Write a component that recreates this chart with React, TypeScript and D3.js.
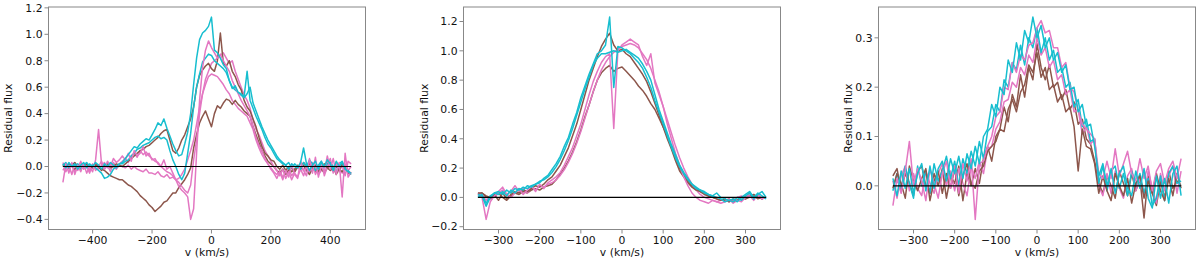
import * as d3 from 'd3';

const BROWN = '#8c564b';
const PINK = '#e377c2';
const CYAN = '#17becf';

// velocity grids, km/s
const vel1 = d3.range(-500, 471, 10);
const vel23 = d3.range(-350, 351, 10);

// ---- panel 1, residual flux x 100
const p1CyanA = [
  2, -1, 3, 0, 2, -2, 1, 3, -1, 2,
  0, 3, 1, -2, 2, 0, 3, 1, -1, 2,
  3, 6, 9, 12, 15, 14, 17, 19, 21, 20,
  24, 28, 33, 31, 36, 29, 23, 17, 12, 8,
  9, 17, 26, 40, 62, 82, 96, 101, 103, 106,
  113, 88, 86, 82, 77, 74, 65, 59, 61, 56,
  55, 53, 72, 50, 44, 38, 33, 28, 22, 17,
  14, 10, 6, 4, 2, 1, -2, 2, 0, -1,
  3, 14, 2, -3, 1, 4, -2, 3, 0, 5,
  2, -3, 4, 0, 3, -2, -4, -5,
];
const p1CyanB = [
  1, 3, -1, 2, 0, 2, -2, 1, 3, 0,
  1, -1, -3, -5, -9, -8, -6, -2, 0, 2,
  2, 4, 5, 8, 10, 13, 14, 16, 17, 18,
  20, 22, 23, 21, 22, 20, 12, 5, 0, -6,
  -10, -5, 10, 25, 45, 60, 70, 79, 82, 85,
  84, 80, 78, 76, 74, 71, 65, 60, 58, 56,
  54, 52, 55, 60, 48, 42, 36, 30, 25, 20,
  16, 12, 8, 5, 3, 1, 3, -1, 2, 0,
  -2, 3, 0, 5, 2, -3, 1, 4, -1, 2,
  3, 0, -4, 2, 4, -1, -3, -6,
];
const p1BrownA = [
  0, 2, -1, 1, 3, 0, -2, 1, 2, 0,
  -1, 2, 0, -3, 1, 2, -1, 0, 2, 1,
  0, 2, 4, 6, 8, 10, 12, 13, 15, 16,
  18, 20, 22, 25, 27, 28, 20, 12, 10, 14,
  20, 24, 30, 36, 45, 60, 69, 73, 76, 78,
  74, 72, 80, 101, 78, 76, 80, 72, 68, 62,
  58, 50, 45, 42, 36, 30, 22, 15, 10, 8,
  5, 4, 0, -2, 1, -3, 0, -4, -2, 1,
  -1, 3, 0, 2, -2, 1, -4, 0, 2, -1,
  1, -2, 0, -3, 2, -1, -4, -5,
];
const p1BrownB = [
  1, -1, 2, 0, -2, 1, 0, -1, 2, 0,
  -1, 1, 0, -2, -3, -5, -7, -8, -9, -10,
  -10, -12, -14, -15, -17, -19, -22, -24, -26, -29,
  -31, -34, -32, -30, -27, -26, -23, -20, -20, -16,
  -13, -10, -6, -1, 14, 24, 33, 38, 42, 36,
  30, 40, 46, 44, 48, 51, 50, 47, 50, 47,
  45, 42, 40, 38, 30, 24, 18, 12, 8, 4,
  2, 0, -3, -5, -2, -6, -3, -1, -4, 0,
  -2, 1, -3, -6, -1, -4, 0, -2, -5, -1,
  -3, 0, -6, -2, -4, -1, -5, -6,
];
const p1PinkA = [
  -12, 2, -5, 3, -6, 1, -4, 2, -5, 0,
  -4, 5, 28, 2, -2, 4, 0, 6, 3, 5,
  8, 5, 10, 4, 12, 8, 10, 15, 8, 10,
  5, 6, 2, 0, 5, -2, 0, -5, -10, -15,
  -18, -20, -23, -40, -32, 10, 50, 75, 88, 95,
  90, 86, 82, 85, 80, 76, 72, 65, 60, 55,
  50, 46, 42, 38, 30, 22, 16, 12, 6, 2,
  -2, -5, -9, -4, -10, -3, -8, 2, -6, -9,
  4, -3, -7, 6, -5, 7, -8, 1, -4, 8,
  -2, 6, -6, 3, -23, 10, -8, -4,
];
const p1PinkB = [
  3, -4, 1, -6, 2, -3, 4, -2, 0, -5,
  2, -3, 0, 4, -2, 1, -4, 3, 0, 2,
  4, 6, 3, 8, 10, 7, 12, 9, 11, 8,
  6, 4, 3, 0, -2, -4, -5, -7, -10, -12,
  -15, -18, -20, -14, 5, 20, 40, 55, 66, 72,
  78, 80, 82, 84, 86, 82, 78, 80, 72, 66,
  60, 54, 50, 44, 35, 28, 24, 18, 12, 8,
  4, 0, -3, -7, -2, -9, -4, -10, -5, -8,
  -2, -7, 0, -4, 3, -6, -1, 4, -7, 0,
  6, -5, 2, -4, 1, -7, 4, 2,
];
const p1PinkC = [
  -3, 1, -2, 2, -4, 0, 3, -1, 1, -3,
  0, 2, -2, 1, 3, -1, 2, 0, -2, 1,
  0, -1, 1, -2, 0, -2, -3, -4, -2, -5,
  -5, -6, -4, -7, -8, -6, -9, -8, -10, -9,
  -6, -2, 5, 12, 20, 32, 45, 55, 62, 68,
  70, 69, 68, 65, 62, 58, 55, 50, 47, 44,
  42, 40, 38, 33, 28, 20, 14, 9, 5, 2,
  -1, -4, -6, -3, -8, -5, -2, -7, -4, -1,
  0, -3, 2, -5, -2, 1, -6, -3, 0, 4,
  -1, -4, 3, -2, -5, 2, -3, 0,
];

// ---- panel 2, residual flux x 100
const p2CyanA = [
  2, 1, -6, 0, 3, 2, 4, 1, 5, 3,
  6, 5, 8, 7, 9, 10, 13, 15, 19, 23,
  28, 35, 41, 50, 58, 68, 76, 84, 91, 98,
  100, 104, 123, 75, 103, 102, 100, 98, 95, 92,
  88, 82, 75, 66, 58, 50, 42, 34, 27, 21,
  16, 12, 9, 6, 5, 3, 2, 1, 3, 0,
  -1, -2, -3, 0, -2, 1, 3, -1, 2, 4,
  0,
];
const p2CyanB = [
  0, 2, -4, 1, 3, 4, 2, 5, 3, 6,
  5, 7, 6, 8, 9, 11, 12, 14, 17, 21,
  26, 32, 39, 47, 56, 65, 74, 82, 90, 95,
  98, 98, 99, 100, 99, 100, 101, 99, 97, 95,
  91, 86, 80, 70, 60, 52, 44, 36, 29, 22,
  17, 13, 9, 7, 5, 4, 2, 1, 0, -1,
  -3, -2, -1, -3, 0, 2, 4, 0, 3, 1,
  -1,
];
const p2BrownA = [
  3, 3, 1, 0, 2, -2, 3, -1, 2, 4,
  3, 5, 4, 6, 8, 7, 9, 12, 14, 18,
  22, 28, 34, 42, 50, 60, 70, 80, 88, 96,
  103, 108, 112, 104, 100, 101, 98, 96, 92, 88,
  84, 79, 72, 64, 56, 48, 40, 33, 25, 18,
  14, 10, 7, 5, 4, 3, 1, 0, -1, -2,
  -1, -3, -1, -2, 0, -1, 1, 2, 0, -1,
  0,
];
const p2BrownB = [
  2, 3, 0, -1, 1, 3, 0, -2, 1, 3,
  2, 4, 3, 5, 6, 5, 7, 8, 9, 12,
  16, 20, 25, 31, 38, 46, 55, 63, 72, 80,
  85, 88, 90, 86, 88, 89, 86, 83, 80, 76,
  73, 69, 64, 60, 54, 48, 42, 34, 27, 20,
  15, 11, 8, 6, 4, 2, 1, 0, -1, -2,
  -2, -1, -3, -2, 0, -1, 0, 1, -1, 0,
  0,
];
const p2PinkA = [
  2, 0, -15, -3, 1, 4, 7, 2, 0, 3,
  6, 2, 5, 8, 4, 9, 6, 10, 12, 14,
  17, 22, 28, 34, 42, 50, 60, 70, 79, 86,
  92, 96, 98, 47, 100, 104, 106, 108, 106, 104,
  96, 90, 98, 78, 70, 62, 50, 40, 30, 22,
  14, 8, 3, 0, -2, -3, -4, -2, -3, -4,
  -3, -1, -4, -2, -3, 0, 1, -2, 2, -1,
  0,
];
const p2PinkB = [
  3, 2, -2, 1, 0, 3, 5, 2, 4, 8,
  4, 6, 3, 7, 5, 8, 7, 9, 10, 12,
  15, 19, 24, 30, 37, 45, 54, 63, 72, 80,
  87, 92, 96, 99, 101, 103, 104, 105, 104, 102,
  98, 94, 88, 80, 72, 62, 53, 44, 35, 27,
  20, 14, 9, 5, 2, 0, -1, -2, -3, -2,
  -1, -3, -2, 0, 1, -1, 3, 0, 2, -1,
  0,
];

// ---- panel 3, residual flux x 1000
const p3CyanA = [
  15, -20, 30, -5, 35, -15, 25, 45, -10, 40,
  -5, 35, 50, 10, 55, 25, 60, 15, 65, 35,
  80, 45, 100, 115, 165, 140, 200, 185, 255, 230,
  290, 255, 315, 290, 342, 300, 325, 280, 300, 255,
  270, 230, 245, 195, 200, 150, 165, 120, 125, 80,
  20, 45, 0, 35, -15, 25, 40, -5, -20, 30,
  -5, 35, -25, -45, 20, -25, 15, -35, 25, 40,
  -20,
];
const p3CyanB = [
  -10, 25, -5, 40, 5, -25, 40, 0, 30, -15,
  45, 10, 30, 60, 15, 50, 0, 55, 25, 70,
  40, 90, 55, 110, 120, 165, 150, 215, 200, 250,
  235, 285, 245, 300, 280, 320, 270, 300, 255, 275,
  230, 240, 200, 210, 160, 175, 120, 135, 90, 95,
  5, 40, -10, 30, 40, -5, 25, -20, 30, 0,
  25, -15, 15, -40, -25, 20, -30, 25, 40, 5,
  10,
];
const p3BrownA = [
  20, 35, -10, 25, 5, -20, 30, 40, 0, -15,
  25, 0, 35, -25, 20, 5, 40, -30, 25, 0,
  35, 5, 55, 80, 50, 100, 115, 160, 130, 185,
  160, 225, 180, 240, 215, 288, 240, 215, 245, 200,
  210, 175, 195, 155, 170, 125, 135, 95, 85, 50,
  5, -15, 20, 0, -25, 30, 5, -20, 25, -10,
  15, -65, 20, -15, -40, 10, -25, 30, -5, 10,
  0,
];
const p3BrownB = [
  -5, 25, 5, -25, 40, 10, -10, 15, 35, -30,
  10, 30, -15, 25, -5, 35, -20, 20, 45, 5,
  -5, 30, 40, 70, 80, 90, 115, 110, 155, 175,
  150, 190, 205, 245, 230, 270, 220, 240, 195, 205,
  170, 185, 150, 160, 120, 30, 115, 80, 75, 45,
  -15, 20, -10, -30, 25, 0, -20, 15, -35, 5,
  20, -25, 10, -15, 25, -10, -30, 15, -20, 25,
  -5,
];
const p3PinkA = [
  -40, 15, -15, 30, 90, 0, 35, 10, -30, 35,
  5, -25, 25, 50, -5, 40, -15, 45, 10, 55,
  -68, 45, 50, 80, 100, 140, 150, 200, 195, 250,
  230, 265, 255, 285, 290, 320, 335, 310, 315, 280,
  280, 240, 250, 200, 190, 153, 125, 115, 105, 95,
  25, 15, 50, 15, 75, 20, 45, 70, 25, 10,
  55, 15, 40, -10, 30, 45, 5, 35, 50, 15,
  55,
];
const p3PinkB = [
  10, -25, 20, 40, -10, 25, -5, -20, 30, 5,
  -15, 25, 45, 0, 30, -10, 35, 5, -20, 40,
  15, 50, 25, 75, 80, 115, 130, 170, 175, 210,
  200, 240, 225, 265, 250, 300, 265, 280, 240, 255,
  215, 225, 185, 195, 150, 155, 105, 120, 85, 95,
  0, -20, 25, -15, 30, -5, -25, 20, 35, -10,
  15, -20, 30, -5, -35, 25, -10, 20, 40, -15,
  30,
];

const TOP = 7;
const BOTTOM = 229.5;
const FONT = "'DejaVu Sans', sans-serif";
const SPINE = '#888';

type Series = { vals: number[]; color: string };
type PanelSpec = {
  left: number;
  right: number;
  vel: number[];
  unit: number;
  series: Series[];
  xTicks: number[];
  yTicks: number[];
  ylabelOffset: number;
};

const panels: PanelSpec[] = [
  {
    left: 48.5, right: 365.5, vel: vel1, unit: 100,
    series: [
      { vals: p1PinkC, color: PINK },
      { vals: p1BrownB, color: BROWN },
      { vals: p1PinkB, color: PINK },
      { vals: p1BrownA, color: BROWN },
      { vals: p1CyanB, color: CYAN },
      { vals: p1PinkA, color: PINK },
      { vals: p1CyanA, color: CYAN },
    ],
    xTicks: [-400, -200, 0, 200, 400],
    yTicks: [-0.4, -0.2, 0, 0.2, 0.4, 0.6, 0.8, 1.0, 1.2],
    ylabelOffset: 40,
  },
  {
    left: 463.5, right: 780.5, vel: vel23, unit: 100,
    series: [
      { vals: p2BrownB, color: BROWN },
      { vals: p2PinkB, color: PINK },
      { vals: p2BrownA, color: BROWN },
      { vals: p2PinkA, color: PINK },
      { vals: p2CyanB, color: CYAN },
      { vals: p2CyanA, color: CYAN },
    ],
    xTicks: [-300, -200, -100, 0, 100, 200, 300],
    yTicks: [-0.2, 0, 0.2, 0.4, 0.6, 0.8, 1.0, 1.2],
    ylabelOffset: 39.5,
  },
  {
    left: 878.5, right: 1195.5, vel: vel23, unit: 1000,
    series: [
      { vals: p3BrownA, color: BROWN },
      { vals: p3PinkB, color: PINK },
      { vals: p3CyanB, color: CYAN },
      { vals: p3BrownB, color: BROWN },
      { vals: p3PinkA, color: PINK },
      { vals: p3CyanA, color: CYAN },
    ],
    xTicks: [-300, -200, -100, 0, 100, 200, 300],
    yTicks: [0, 0.1, 0.2, 0.3],
    ylabelOffset: 30.5,
  },
];

const minus = (s: string) => s.replace('-', '\u2212');

// matplotlib style 5% margins
function padded([lo, hi]: [number, number]): [number, number] {
  const m = (hi - lo) * 0.05;
  return [lo - m, hi + m];
}

function Panel({ p }: { p: PanelSpec }) {
  const xExt = d3.extent(p.vel) as [number, number];
  const x = d3.scaleLinear().domain(padded(xExt)).range([p.left, p.right]);
  const allVals = p.series.flatMap((s) => s.vals.map((v) => v / p.unit));
  const y = d3
    .scaleLinear()
    .domain(padded(d3.extent(allVals) as [number, number]))
    .range([BOTTOM, TOP]);

  const line = d3
    .line<number>()
    .x((_, i) => x(p.vel[i]))
    .y((d) => y(d / p.unit));

  const fmtY = d3.format('.1f');
  const mid = (TOP + BOTTOM) / 2;

  return (
    <g fontFamily={FONT} fontSize={10.8} fill="#111">
      <clipPath id={`clip${p.left}`}>
        <rect x={p.left} y={TOP} width={p.right - p.left} height={BOTTOM - TOP} />
      </clipPath>
      <g clipPath={`url(#clip${p.left})`}>
        {p.series.map((s, i) => (
          <path key={i} d={line(s.vals) || ''} fill="none" stroke={s.color}
            strokeWidth={1.5} strokeLinejoin="round" />
        ))}
        <line x1={x(xExt[0])} x2={x(xExt[1])} y1={y(0)} y2={y(0)}
          stroke="#000" strokeWidth={1.2} />
      </g>
      <rect x={p.left} y={TOP} width={p.right - p.left} height={BOTTOM - TOP}
        fill="none" stroke={SPINE} strokeWidth={1} />
      {p.xTicks.map((t) => (
        <g key={t}>
          <line x1={x(t)} x2={x(t)} y1={BOTTOM} y2={BOTTOM + 4} stroke={SPINE} />
          <text x={x(t)} y={BOTTOM + 14} textAnchor="middle">{minus(String(t))}</text>
        </g>
      ))}
      {p.yTicks.map((t) => (
        <g key={t}>
          <line x1={p.left - 4} x2={p.left} y1={y(t)} y2={y(t)} stroke={SPINE} />
          <text x={p.left - 6} y={y(t)} dy="0.35em" textAnchor="end">{minus(fmtY(t))}</text>
        </g>
      ))}
      <text x={(p.left + p.right) / 2} y={BOTTOM + 26.5} textAnchor="middle">v (km/s)</text>
      <text transform={`translate(${p.left - p.ylabelOffset},${mid}) rotate(-90)`}
        dy="0.35em" textAnchor="middle">Residual flux</text>
    </g>
  );
}

export default function App() {
  return (
    <svg width={1200} height={260}
      style={{ position: 'absolute', left: 0, top: 0, background: '#fff' }}>
      {panels.map((p, i) => (
        <Panel key={i} p={p} />
      ))}
    </svg>
  );
}
